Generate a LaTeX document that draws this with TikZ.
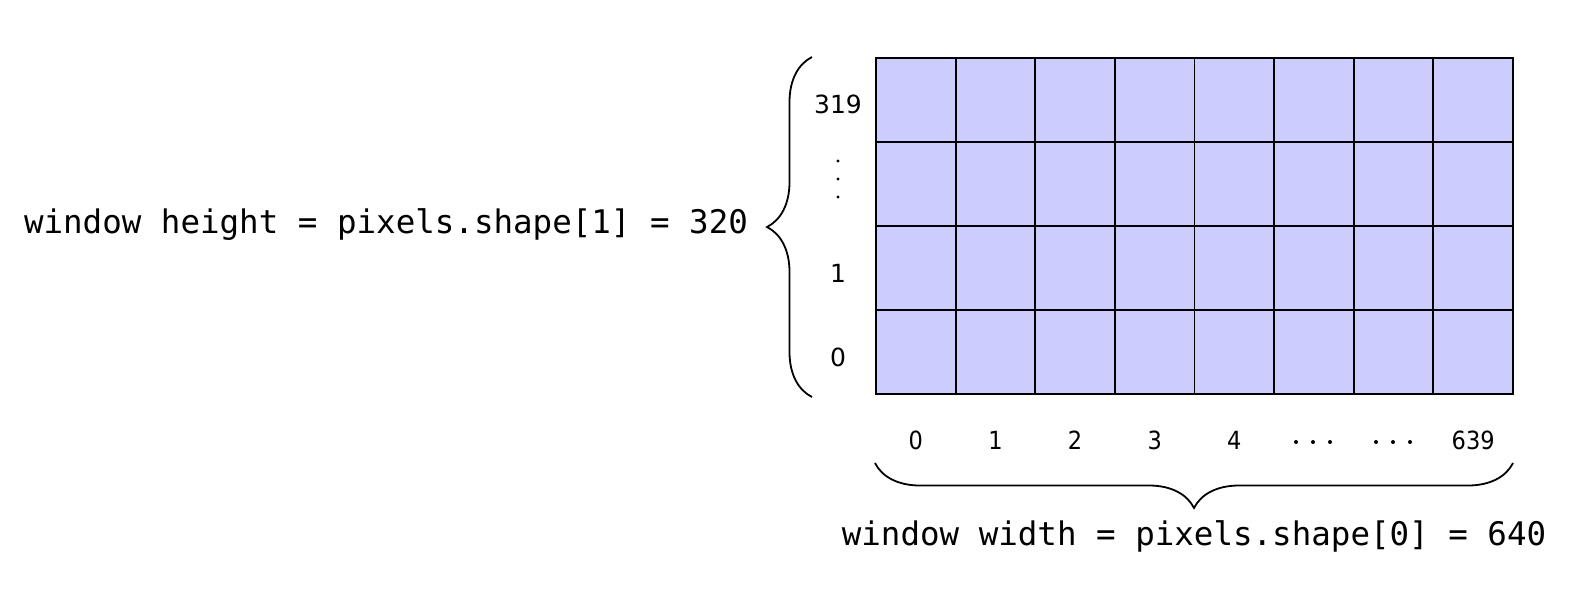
\documentclass[tikz,border=0pt]{standalone}
\usepackage{fontspec}
\setmainfont{DejaVu Sans}
\newfontfamily\monofam{DejaVu Sans Mono}
\newfontfamily\condfam{DejaVu Sans Condensed}
\usetikzlibrary{decorations.pathreplacing}
\definecolor{cellfill}{RGB}{204,204,255}
\tikzset{
  bigbrace/.style={draw, line width=1.8pt, decorate, decoration={brace, amplitude=45pt}},
  gridline/.style={draw=black, line width=1.9pt},
  monolabel/.style={font=\monofam\fontsize{32.5}{39}\selectfont, inner sep=0pt},
  rowlabel/.style={font=\fontsize{25}{30}\selectfont, inner sep=0pt},
  collabel/.style={font=\condfam\fontsize{25}{30}\selectfont, inner sep=0pt},
  dotmark/.style={fill=black, draw=none}
}
\begin{document}
\begin{tikzpicture}[x=1pt,y=-1pt]
\useasboundingbox (0,0) rectangle (1590,598);
% grid
\coordinate (g-tl) at (876,58);
\coordinate (g-br) at (1513,394);
\fill[cellfill] (g-tl) rectangle (g-br);
\foreach \i in {1,...,7} {
  \draw[gridline] ({876+\i*79.625},58) -- ({876+\i*79.625},394);
}
\foreach \j in {1,2,3} {
  \draw[gridline] (876,{58+\j*84}) -- (1513,{58+\j*84});
}
\draw[gridline] (g-tl) rectangle (g-br);
% row labels
\node[rowlabel] (r319) at (838,104) {319};
\node[rowlabel] (r1) at (838,273) {1};
\node[rowlabel] (r0) at (838,357) {0};
\foreach \yy in {161,179,197} {
  \fill[dotmark] (838,\yy) circle (1.7);
}
% column labels
\foreach \lab [count=\c from 0] in {0,1,2,3,4} {
  \node[collabel] (c\c) at ({876+39.8+\c*79.625},440) {\lab};
}
\node[collabel] (c7) at ({876+39.8+7*79.625},440) {639};
\foreach \xx in {1296,1313,1330,1376,1393,1410} {
  \fill[dotmark] (\xx,442) circle (2);
}
% braces
\coordinate (lb-b) at (812,397);
\coordinate (lb-t) at (812,57);
\draw[bigbrace] (lb-b) -- (lb-t);
\coordinate (bb-r) at (1513,463);
\coordinate (bb-l) at (875,463);
\draw[bigbrace] (bb-r) -- (bb-l);
% main labels
\node[monolabel] (hlab) at (386,225) {window height = pixels.shape[1] = 320};
\node[monolabel] (wlab) at (1194,536) {window width = pixels.shape[0] = 640};
\end{tikzpicture}
\end{document}
